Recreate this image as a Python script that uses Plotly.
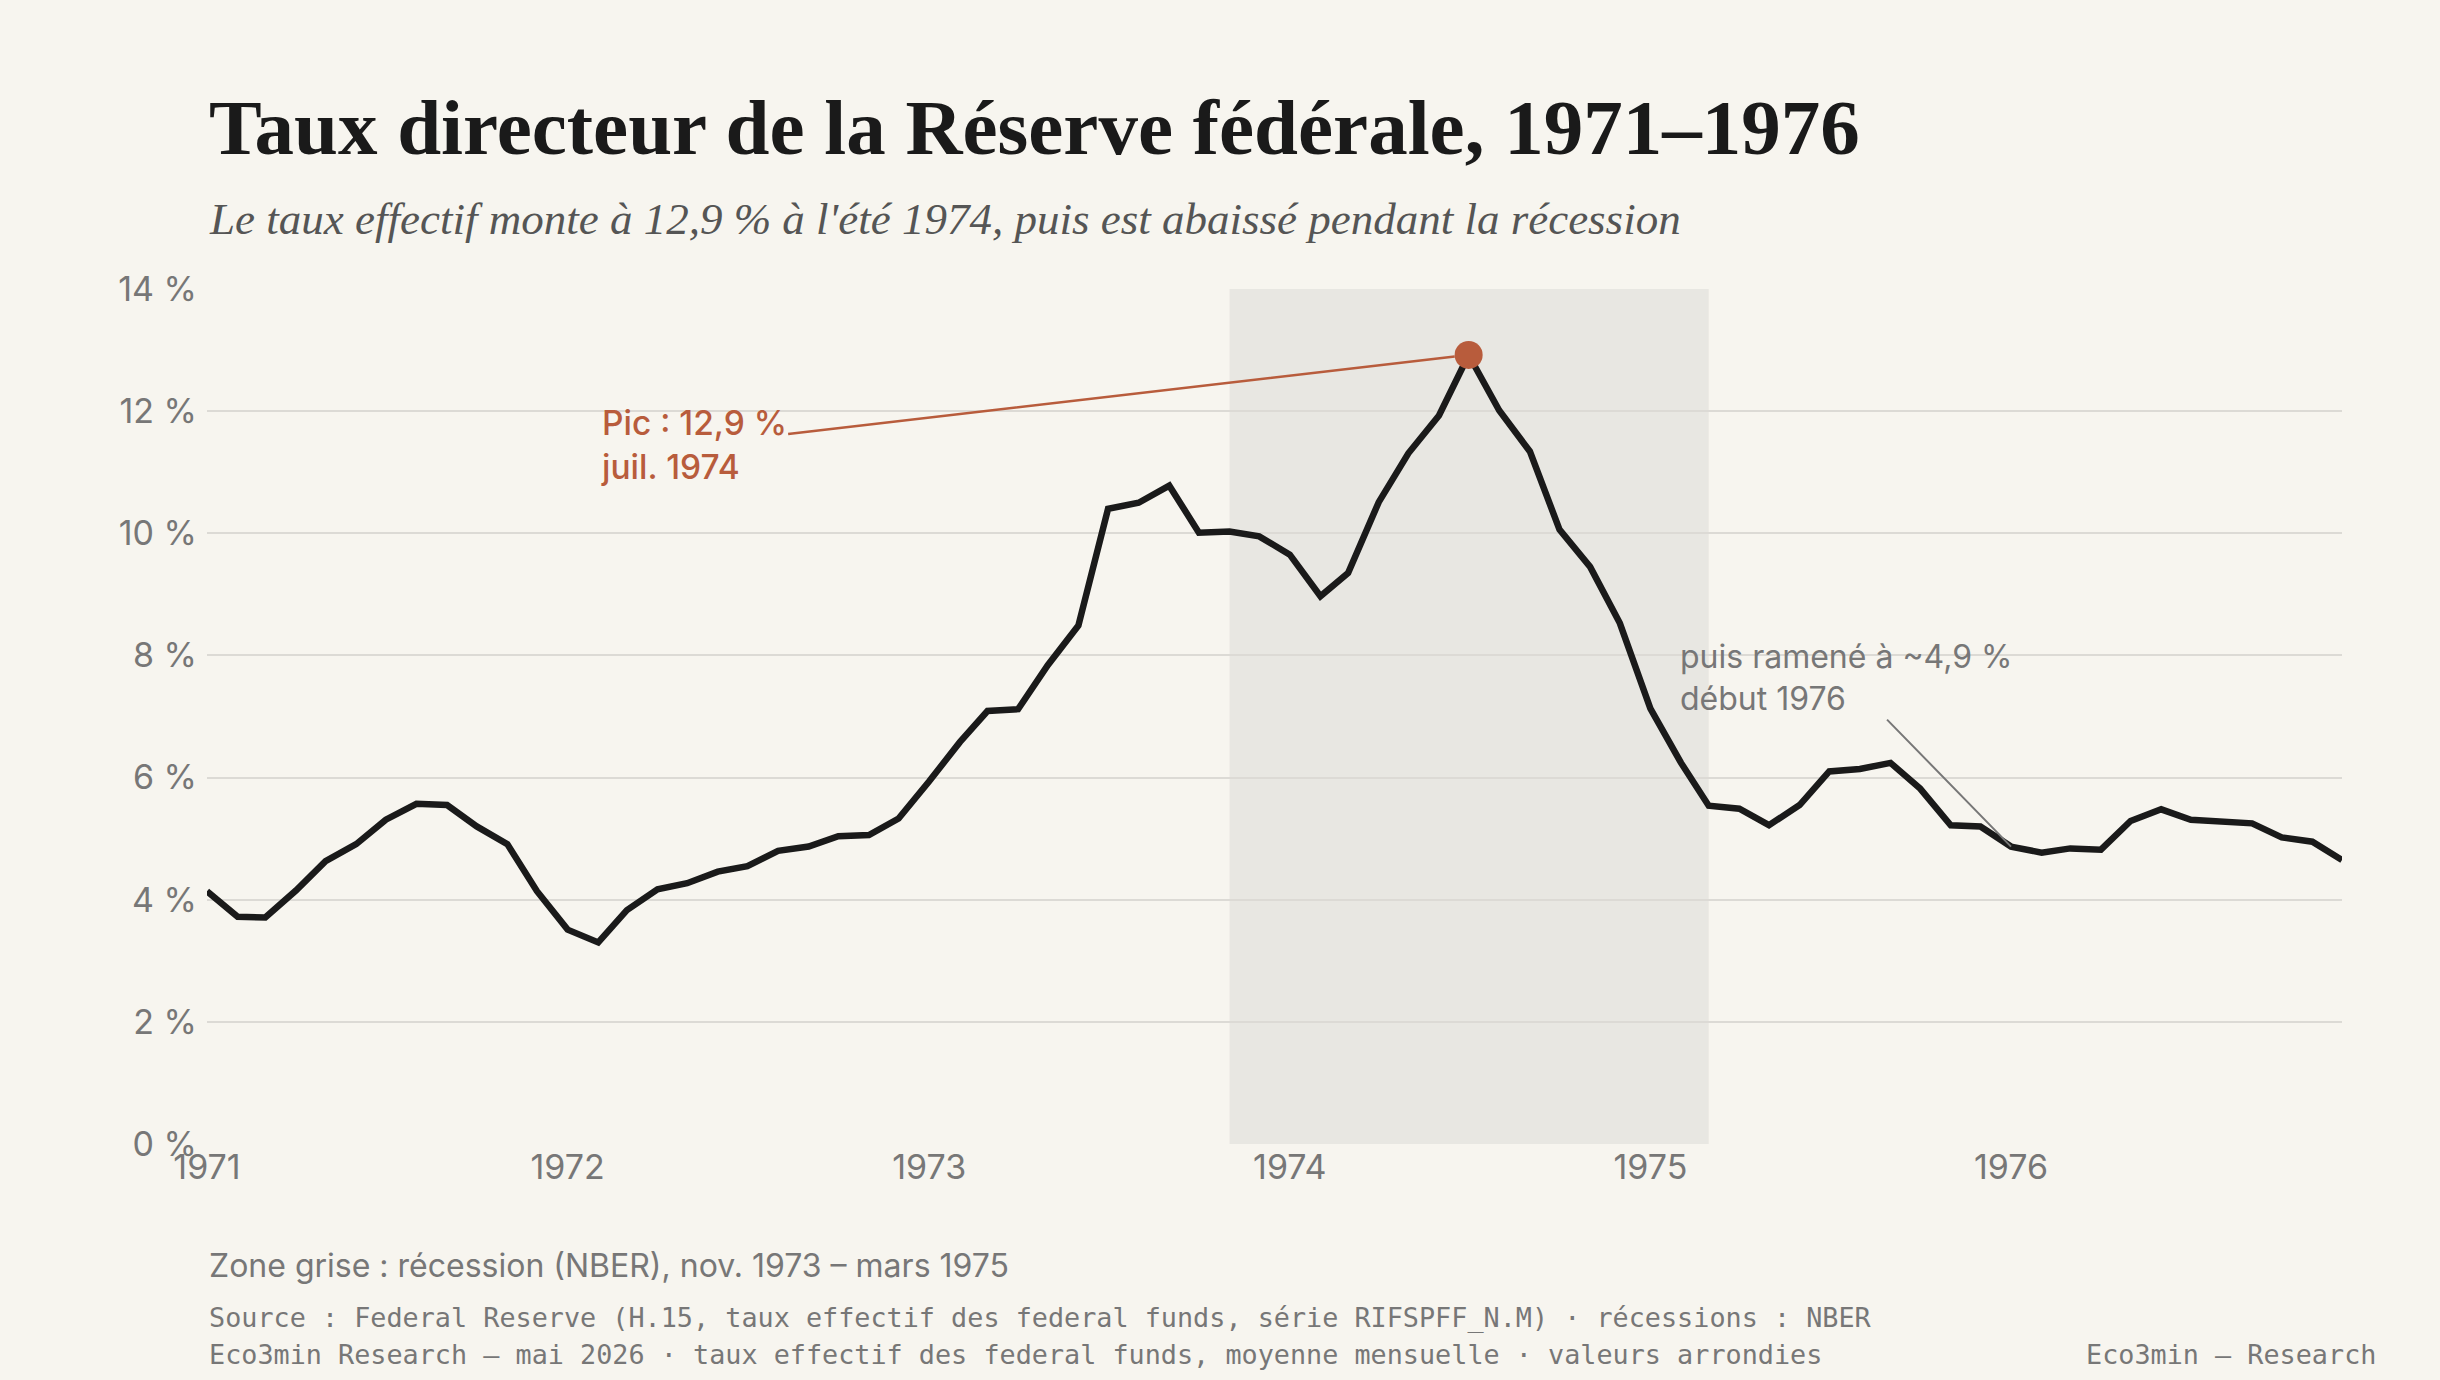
import plotly.graph_objects as go
import pandas as pd

# Monthly effective federal funds rate (%), Jan 1971 – Dec 1976
months = pd.date_range("1971-01-01", "1976-12-01", freq="MS")
rate = [
    4.14, 3.72, 3.71, 4.15, 4.63, 4.91, 5.31, 5.57, 5.55, 5.20, 4.91, 4.14,
    3.51, 3.30, 3.83, 4.17, 4.27, 4.46, 4.55, 4.80, 4.87, 5.04, 5.06, 5.33,
    5.94, 6.58, 7.09, 7.12, 7.84, 8.49, 10.40, 10.50, 10.78, 10.01, 10.03, 9.95,
    9.65, 8.97, 9.35, 10.51, 11.31, 11.93, 12.92, 12.01, 11.34, 10.06, 9.45, 8.53,
    7.13, 6.24, 5.54, 5.49, 5.22, 5.55, 6.10, 6.14, 6.24, 5.82, 5.22, 5.20,
    4.87, 4.77, 4.84, 4.82, 5.29, 5.48, 5.31, 5.29, 5.25, 5.02, 4.95, 4.65,
]
recession_start = "1973-11-01"
recession_end = "1975-03-01"
peak_date = "1974-07-01"
peak_value = 12.92
low_date = "1976-01-01"
low_value = 4.87
year_ticks = ["1971-01-01", "1972-01-01", "1973-01-01", "1974-01-01", "1975-01-01", "1976-01-01"]
year_labels = ["1971", "1972", "1973", "1974", "1975", "1976"]
y_ticks = [0, 2, 4, 6, 8, 10, 12, 14]
y_labels = ["0 %", "2 %", "4 %", "6 %", "8 %", "10 %", "12 %", "14 %"]

BG = "#f7f5ef"
INK = "#1a1a1a"
RUST = "#b85c3c"
GREY = "#777777"
SANS = "Inter, 'Noto Sans', sans-serif"
SERIF = "'Liberation Serif', 'DejaVu Serif', serif"
MONO = "'DejaVu Sans Mono', 'Liberation Mono', monospace"

fig = go.Figure()
fig.add_trace(go.Scatter(
    x=months, y=rate, mode="lines",
    line=dict(color=INK, width=6.5),
    hoverinfo="skip", showlegend=False,
))
fig.add_trace(go.Scatter(
    x=[peak_date], y=[peak_value], mode="markers",
    marker=dict(color=RUST, size=28),
    hoverinfo="skip", showlegend=False,
))

fig.add_shape(type="rect", xref="x", yref="y",
              x0=recession_start, x1=recession_end, y0=0, y1=14,
              fillcolor="#e8e7e2", line_width=0, layer="below")

annotations = [
    dict(text="<b>Taux directeur de la Réserve fédérale, 1971–1976</b>",
         xref="paper", yref="paper", x=0, y=(1144 - 127) / 855,
         xanchor="left", yanchor="middle", showarrow=False,
         font=dict(family=SERIF, size=79, color=INK)),
    dict(text="<i>Le taux effectif monte à 12,9 % à l'été 1974, puis est abaissé pendant la récession</i>",
         xref="paper", yref="paper", x=0, y=(1144 - 219) / 855,
         xanchor="left", yanchor="middle", showarrow=False,
         font=dict(family=SERIF, size=45, color="#555555")),
    dict(text="Pic : 12,9 %<br>juil. 1974", x=peak_date, y=peak_value,
         xref="x", yref="y", ax=-775, ay=90, align="left",
         showarrow=True, arrowhead=0, arrowwidth=2.5, arrowcolor=RUST, standoff=14,
         font=dict(family=SANS, size=33.5, color=RUST, weight=500)),
    dict(text="puis ramené à ~4,9 %<br>début 1976", x=low_date, y=low_value,
         xref="x", yref="y", ax=-165, ay=-169, align="left",
         showarrow=True, arrowhead=0, arrowwidth=2, arrowcolor=GREY, standoff=0,
         font=dict(family=SANS, size=32, color=GREY)),
    dict(text="Zone grise : récession (NBER), nov. 1973 – mars 1975",
         xref="paper", yref="paper", x=0, y=(1144 - 1265) / 855,
         xanchor="left", yanchor="middle", showarrow=False,
         font=dict(family=SANS, size=32, color=GREY)),
    dict(text="Source : Federal Reserve (H.15, taux effectif des federal funds, série RIFSPFF_N.M) · récessions : NBER",
         xref="paper", yref="paper", x=0, y=(1144 - 1318) / 855,
         xanchor="left", yanchor="middle", showarrow=False,
         font=dict(family=MONO, size=26.8, color=GREY)),
    dict(text="Eco3min Research — mai 2026 · taux effectif des federal funds, moyenne mensuelle · valeurs arrondies",
         xref="paper", yref="paper", x=0, y=(1144 - 1354) / 855,
         xanchor="left", yanchor="middle", showarrow=False,
         font=dict(family=MONO, size=26.8, color=GREY)),
    dict(text="Eco3min — Research",
         xref="paper", yref="paper", x=(2378 - 207) / 2135, y=(1144 - 1354) / 855,
         xanchor="right", yanchor="middle", showarrow=False,
         font=dict(family=MONO, size=26.8, color=GREY)),
]

fig.update_layout(
    width=2440, height=1380,
    paper_bgcolor=BG, plot_bgcolor=BG,
    margin=dict(l=207, r=98, t=289, b=236),
    annotations=annotations,
    xaxis=dict(
        range=["1971-01-01", "1976-12-01"],
        tickvals=year_ticks, ticktext=year_labels,
        showgrid=False, zeroline=False, showline=False, ticks="",
        tickfont=dict(family=SANS, size=34, color=GREY),
    ),
    yaxis=dict(
        range=[0, 14], tickvals=y_ticks, ticktext=y_labels,
        showgrid=True, gridcolor="#dcdad5", gridwidth=1.5,
        zeroline=False, showline=False, ticks="", ticklabelstandoff=9,
        tickfont=dict(family=SANS, size=34, color=GREY),
    ),
)

fig.write_html("out.html")
